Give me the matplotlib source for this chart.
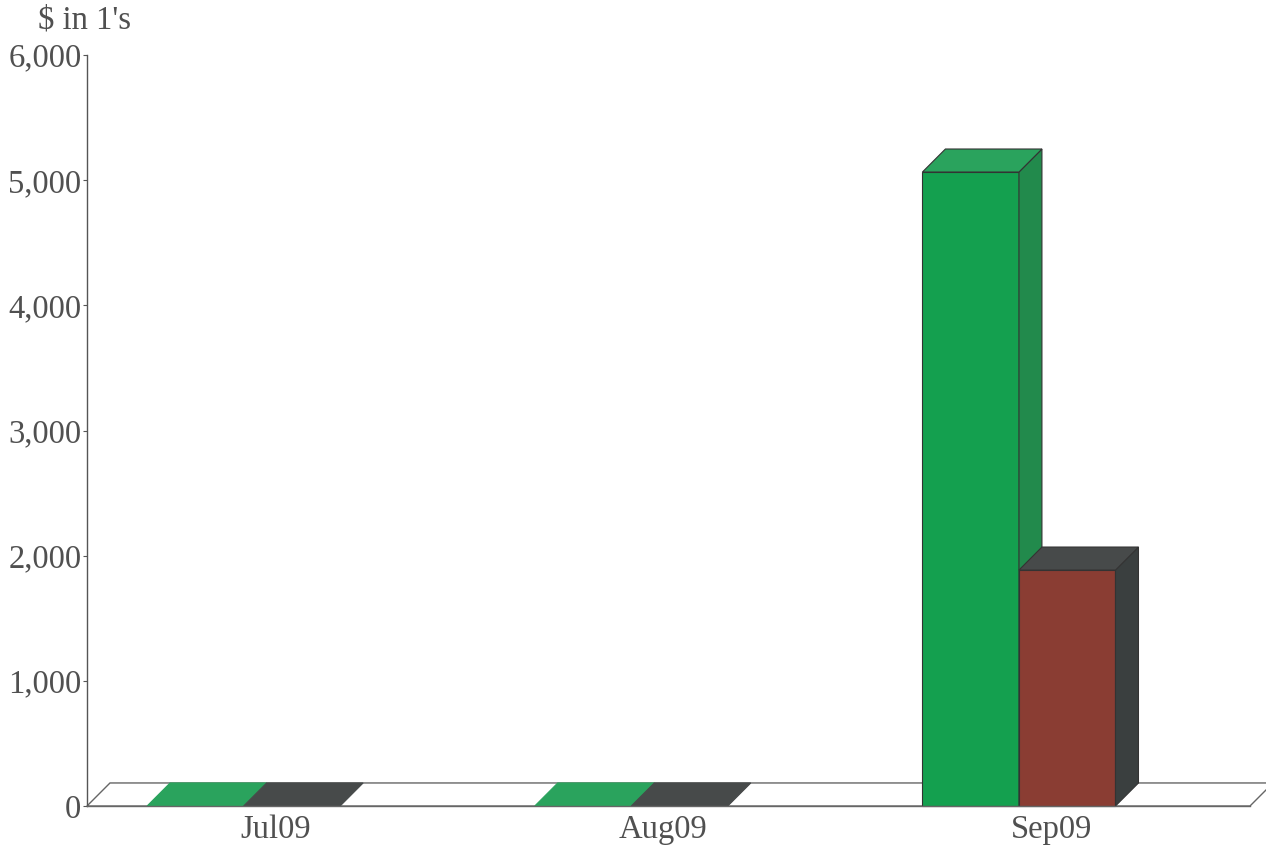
import matplotlib.pyplot as plt
from matplotlib.patches import Polygon

months = ["Jul09", "Aug09", "Sep09"]
series_a = [0, 0, 5065]   # green
series_b = [0, 0, 1885]   # brown / dark
yticks = [0, 1000, 2000, 3000, 4000, 5000, 6000]
ytick_labels = ["0", "1,000", "2,000", "3,000", "4,000", "5,000", "6,000"]

plt.rcParams['font.family'] = ['Liberation Serif', 'DejaVu Serif']
text_col = "#505050"
edge_col = "#333333"

# depth of the fake 3D effect (data units)
dx = 0.0593
dy = 184.0
bar_w = 0.249
group_shift = -0.345  # left edge of first bar relative to category centre

styles = [
    {"front": "#14a04f", "top": "#2aa35d", "side": "#228a4c"},
    {"front": "#8a3d33", "top": "#474a4a", "side": "#3a3f3f"},
]

fig = plt.figure(figsize=(12.66, 8.49), dpi=100)
ax = fig.add_axes([87 / 1266, 1 - 806 / 849, (1250 - 87) / 1266, (806 - 55) / 849])
ax.set_xlim(0, 3)
ax.set_ylim(0, 6000)

# floor
floor = Polygon([(0, 0), (3, 0), (3 + dx, dy), (dx, dy)], closed=True,
                facecolor="white", edgecolor="#666666", lw=1.0, clip_on=False, zorder=1)
ax.add_patch(floor)


def bar3d(x0, v, st):
    x1 = x0 + bar_w
    if v > 0:
        ax.add_patch(Polygon([(x0, 0), (x1, 0), (x1, v), (x0, v)], closed=True,
                             facecolor=st["front"], edgecolor=edge_col, lw=0.8,
                             clip_on=False, zorder=3))
        ax.add_patch(Polygon([(x1, 0), (x1 + dx, dy), (x1 + dx, v + dy), (x1, v)], closed=True,
                             facecolor=st["side"], edgecolor=edge_col, lw=0.8,
                             clip_on=False, zorder=3))
    ax.add_patch(Polygon([(x0, v), (x1, v), (x1 + dx, v + dy), (x0 + dx, v + dy)], closed=True,
                         facecolor=st["top"], edgecolor=edge_col if v > 0 else st["top"],
                         lw=0.8, clip_on=False, zorder=3))


for i in range(len(months)):
    c = i + 0.5
    x0 = c + group_shift
    bar3d(x0, series_a[i], styles[0])
    bar3d(x0 + bar_w, series_b[i], styles[1])

# redraw the floor front edge on top
ax.plot([0, 3], [0, 0], color="#666666", lw=1.0, clip_on=False, zorder=4)

for s in ["top", "right", "bottom"]:
    ax.spines[s].set_visible(False)
ax.spines["left"].set_color("#555555")
ax.spines["left"].set_linewidth(1.0)

ax.set_yticks(yticks)
ax.set_yticklabels(ytick_labels)
ax.set_xticks([i + 0.487 for i in range(len(months))])
ax.set_xticklabels(months)
ax.tick_params(axis="y", direction="out", length=3, width=0.8, color="#555555",
               labelsize=23.5, labelcolor=text_col, pad=1)
ax.tick_params(axis="x", length=0, labelsize=23.5, labelcolor=text_col, pad=6)

fig.text(85 / 1266, 1 - 20 / 849, r"\$ in 1's", ha="center", va="center",
         fontsize=23.5, color=text_col)

fig.savefig("out.png", dpi=100)
